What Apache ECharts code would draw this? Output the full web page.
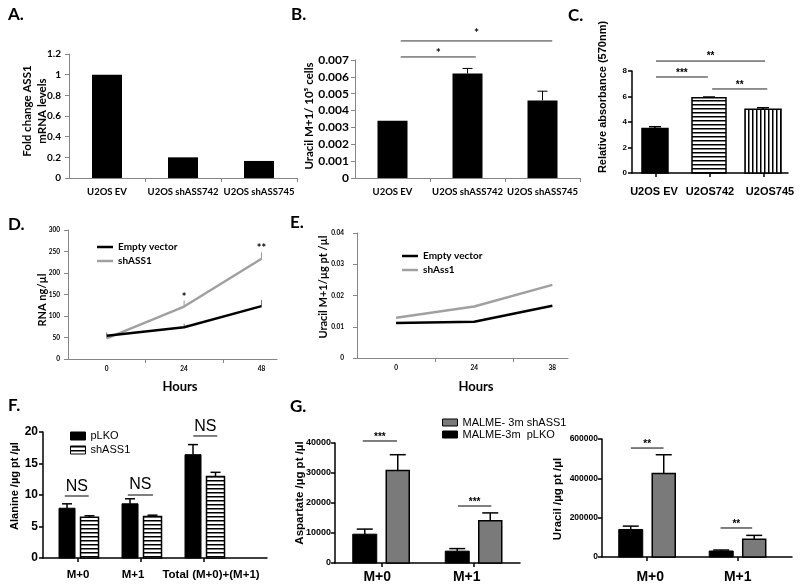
<!DOCTYPE html>
<html><head><meta charset="utf-8">
<script src="https://cdn.jsdelivr.net/npm/echarts@6/dist/echarts.min.js"></script>
<style>html,body{margin:0;padding:0;background:#fff}#c{width:800px;height:586px}</style>
</head><body><div id="c"></div>
<script>
// ---------------- DATA ----------------
const catsA = ['U2OS EV', 'U2OS shASS742', 'U2OS shASS745'];
const valsA = [1.0, 0.2, 0.165];

const catsB = ['U2OS EV', 'U2OS shASS742', 'U2OS shASS745'];
const valsB = [0.0034, 0.0062, 0.0046];
const errB = [0, 0.0003, 0.00055];
const sigB = [
  {x1: 0.11, x2: 1.11, y: 0.00718, ty: 0.00738, text: '*'},
  {x1: 0.11, x2: 2.13, y: 0.00813, ty: 0.00857, text: '*'}
];

const catsC = ['U2OS EV', 'U2OS742', 'U2OS745'];
const valsC = [3.5, 5.9, 5.0];
const errC = [0.13, 0.06, 0.12];
const sigC = [
  {x1: 0.0, x2: 0.96, y: 7.53, ty: 7.8, text: '***'},
  {x1: 0.0, x2: 2.02, y: 8.78, ty: 9.14, text: '**'},
  {x1: 1.04, x2: 2.06, y: 6.59, ty: 6.86, text: '**'}
];

const hoursD = ['0', '24', '48'];
const emptyD = [54, 74, 123];
const shD = [48, 122, 233];
const errEmptyD = [8, 8, 14];
const errShD = [8, 14, 15];
const sigD = [
  {x1: 1, x2: 1, y: 143, ty: 143, text: '*'},
  {x1: 2, x2: 2, y: 257, ty: 257, text: '**'}
];

const hoursE = ['0', '24', '38'];
const emptyE = [0.0112, 0.0116, 0.0167];
const shE = [0.0129, 0.0165, 0.0234];

const catsF = ['M+0', 'M+1', 'Total (M+0)+(M+1)'];
const pLKOF = [7.9, 8.6, 16.4];
const errPF = [0.7, 0.8, 1.6];
const shF = [6.45, 6.6, 12.95];
const errSF = [0.25, 0.2, 0.65];
const sigF = [
  {x1: -0.21, x2: 0.17, y: 9.84, ty: 11.27, text: 'NS'},
  {x1: 0.79, x2: 1.19, y: 10.0, ty: 11.6, text: 'NS'},
  {x1: 1.83, x2: 2.21, y: 19.37, ty: 20.8, text: 'NS'}
];

const catsG = ['M+0', 'M+1'];
const pLKOG1 = [9600, 3950];
const errPG1 = [1700, 850];
const shG1 = [30800, 14100];
const errSG1 = [5300, 2600];
const sigG1 = [
  {x1: -0.2, x2: 0.17, y: 40670, ty: 41830, text: '***'},
  {x1: 0.83, x2: 1.19, y: 19000, ty: 20170, text: '***'}
];
const pLKOG2 = [140000, 30500];
const errPG2 = [17000, 5000];
const shG2 = [424000, 90000];
const errSG2 = [96000, 20000];
const sigG2 = [
  {x1: -0.18, x2: 0.18, y: 554000, ty: 572000, text: '**'},
  {x1: 0.81, x2: 1.16, y: 147500, ty: 165000, text: '**'}
];

// ---------------- STYLE HELPERS ----------------
const XL = 'Lato, "Liberation Sans", sans-serif';
const AR = '"Liberation Sans", Arial, sans-serif';
const XLGRAY = '#868686';

function stripes(dir, period, lw) {
  const c = document.createElement('canvas');
  c.width = period; c.height = period;
  const g = c.getContext('2d');
  g.fillStyle = '#fff'; g.fillRect(0, 0, period, period);
  g.fillStyle = '#000';
  if (dir === 'h') g.fillRect(0, 0, period, lw); else g.fillRect(0, 0, lw, period);
  return {image: c, repeat: 'repeat'};
}
const hStripe = stripes('h', 4, 1.5);
const vStripe = stripes('v', 4, 1.5);

function barSeries(o) {
  const data = o.values.map((v, i) => [i, v, o.errs ? o.errs[i] : 0]);
  return {
    type: 'custom', name: o.name, xAxisIndex: o.ax, yAxisIndex: o.ax, silent: true,
    itemStyle: {color: Array.isArray(o.fill) ? o.fill[0] : o.fill, borderColor: o.stroke || '#000', borderWidth: o.bw || 0},
    data: data,
    renderItem: function (params, api) {
      const i = params.dataIndex;
      const x = api.value(0), v = api.value(1), e = api.value(2);
      const b = api.coord([x, 0]), t = api.coord([x, v]);
      const cx = b[0] + (o.offset || 0);
      const w = Array.isArray(o.width) ? o.width[i] : o.width;
      const fill = Array.isArray(o.fill) ? o.fill[i] : o.fill;
      const ch = [];
      if (e > 0) {
        const et = api.coord([x, v + e]);
        const es = {stroke: '#000', lineWidth: o.ew || 1};
        ch.push({type: 'line', shape: {x1: cx, y1: t[1], x2: cx, y2: et[1]}, style: es});
        ch.push({type: 'line', shape: {x1: cx - o.cap / 2, y1: et[1], x2: cx + o.cap / 2, y2: et[1]}, style: es});
      }
      ch.push({type: 'rect', shape: {x: cx - w / 2, y: t[1], width: w, height: b[1] - t[1]},
        style: {fill: fill, stroke: o.bw ? (o.stroke || '#000') : null, lineWidth: o.bw || 0}});
      return {type: 'group', children: ch};
    }
  };
}

function errSeries(ax, values, errs, color) {
  return {
    type: 'custom', xAxisIndex: ax, yAxisIndex: ax, silent: true, z: 1,
    data: values.map((v, i) => [i, v, errs[i]]),
    renderItem: function (params, api) {
      const x = api.value(0), v = api.value(1), e = api.value(2);
      const p = api.coord([x, v]), q = api.coord([x, v + e]);
      return {type: 'line', shape: {x1: p[0], y1: p[1], x2: q[0], y2: q[1]}, style: {stroke: color, lineWidth: 1}};
    }
  };
}

function sigSeries(ax, items, font, lineColor) {
  return {
    type: 'custom', xAxisIndex: ax, yAxisIndex: ax, silent: true, z: 5,
    data: items.map(s => [s.x1, s.y, s.x2, s.ty]),
    renderItem: function (params, api) {
      const s = items[params.dataIndex];
      const p1 = api.coord([s.x1, s.y]), p2 = api.coord([s.x2, s.y]);
      const pt = api.coord([(s.x1 + s.x2) / 2, s.ty]);
      const ch = [];
      if (s.x2 !== s.x1) ch.push({type: 'line', shape: {x1: p1[0], y1: p1[1], x2: p2[0], y2: p2[1]}, style: {stroke: lineColor, lineWidth: 1}});
      ch.push({type: 'text', x: pt[0], y: pt[1], style: {text: s.text, font: font, fill: '#000', align: 'center', verticalAlign: 'middle'}});
      return {type: 'group', children: ch};
    }
  };
}

function xAx(gi, min, max, names, ticks, o, shifts) {
  const rich = {};
  names.forEach((_, i) => {
    const s = shifts ? shifts[i] : 0;
    rich['s' + i] = Object.assign({padding: s > 0 ? [0, 0, 0, 2 * s] : [0, -2 * s, 0, 0]}, o.font);
  });
  return {
    type: 'value', gridIndex: gi, min: min, max: max,
    axisLine: {show: true, onZero: false, lineStyle: {color: o.color, width: o.width}},
    axisTick: {show: true, customValues: ticks, length: 4, inside: false, lineStyle: {color: o.color, width: o.width}},
    axisLabel: Object.assign({show: true, customValues: names.map((_, i) => i),
      showMinLabel: true, showMaxLabel: true, hideOverlap: false,
      formatter: v => { const i = Math.round(v); return names[i] ? '{s' + i + '|' + names[i] + '}' : ''; },
      rich: rich, margin: o.margin, color: '#000'}, o.font),
    splitLine: {show: false}
  };
}
function yAx(gi, max, interval, o) {
  return {
    type: 'value', gridIndex: gi, min: 0, max: max, interval: interval,
    axisLine: {show: true, onZero: false, lineStyle: {color: o.color, width: o.width}},
    axisTick: {show: true, length: 4, lineStyle: {color: o.color, width: o.width}},
    axisLabel: Object.assign({margin: o.margin, showMinLabel: true, showMaxLabel: true, hideOverlap: false,
      formatter: v => String(+v.toFixed(6)), color: '#000'}, o.font),
    splitLine: {show: false}
  };
}
const xlAxis = (m, size) => ({color: XLGRAY, width: 1, margin: m, font: {fontFamily: XL, fontWeight: 'bold', fontSize: size, color: '#000'}});
const prAxis = (m, size) => ({color: '#000', width: 1.5, margin: m, font: {fontFamily: AR, fontWeight: 'bold', fontSize: size, color: '#000'}});

const grid = [
  {left: 69, top: 54, width: 228, height: 124},
  {left: 355, top: 60, width: 225, height: 118},
  {left: 632, top: 71, width: 156, height: 102},
  {left: 68, top: 230, width: 209, height: 129},
  {left: 357, top: 233, width: 211, height: 125},
  {left: 43, top: 432, width: 224, height: 126},
  {left: 335, top: 443, width: 185, height: 120},
  {left: 602, top: 439, width: 190, height: 118}
].map(g => Object.assign({containLabel: false, outerBoundsMode: 'none'}, g));

const xAxis = [
  xAx(0, -0.5, 2.5, catsA, [0.5, 1.5, 2.5], xlAxis(9, 9.5)),
  xAx(1, -0.5, 2.5, catsB, [0.5, 1.5, 2.5], xlAxis(9, 9.5)),
  xAx(2, -0.444, 2.444, catsC, [0, 1, 2], prAxis(13, 11), [-2, 0, 6]),
  xAx(3, -0.5, 2.2, hoursD, [0.5, 1.5], xlAxis(6, 6.5)),
  xAx(4, -0.5, 2.2, hoursE, [0.5, 1.5], xlAxis(6, 6.5)),
  xAx(5, -0.556, 3.0, catsF, [0, 1, 2], prAxis(11, 11.5), [0, -8, 7]),
  xAx(6, -0.5, 1.5, catsG, [0, 1], prAxis(7, 14), [-4, -7]),
  xAx(7, -0.5, 1.6, catsG, [0, 1], prAxis(13, 14), [3, 0])
];
const yAxis = [
  yAx(0, 1.2, 0.2, xlAxis(8, 10)),
  yAx(1, 0.007, 0.001, xlAxis(6, 12)),
  yAx(2, 8, 2, prAxis(5, 8)),
  yAx(3, 300, 50, xlAxis(8, 6.5)),
  yAx(4, 0.04, 0.01, xlAxis(13, 6.5)),
  yAx(5, 20, 5, prAxis(5, 12)),
  yAx(6, 40000, 10000, prAxis(4, 9)),
  yAx(7, 600000, 200000, prAxis(4, 8.5))
];

const series = [
  // A
  barSeries({name: 'A', ax: 0, values: valsA, width: 30, fill: '#000'}),
  // B
  barSeries({name: 'B', ax: 1, values: valsB, errs: errB, width: 30, fill: '#000', cap: 10}),
  sigSeries(1, sigB, 'bold 12px ' + XL, '#333'),
  // C
  barSeries({name: 'C', ax: 2, values: valsC, errs: errC, width: [26, 34, 36], offset: -1, fill: ['#000', hStripe, vStripe], stroke: '#000', bw: 1.5, cap: 12, ew: 1.5}),
  sigSeries(2, sigC, 'bold 10px ' + AR, '#222'),
  // D
  errSeries(3, emptyD, errEmptyD, '#777'),
  errSeries(3, shD, errShD, '#999'),
  {type: 'line', name: 'Empty vector', xAxisIndex: 3, yAxisIndex: 3, data: emptyD.map((v, i) => [i, v]), symbol: 'none', z: 3,
    lineStyle: {color: '#000', width: 2.5}, itemStyle: {color: '#000'}},
  {type: 'line', name: 'shASS1', xAxisIndex: 3, yAxisIndex: 3, data: shD.map((v, i) => [i, v]), symbol: 'none', z: 2,
    lineStyle: {color: '#a0a0a0', width: 2.5}, itemStyle: {color: '#a0a0a0'}},
  sigSeries(3, sigD, 'bold 11px ' + XL, '#000'),
  // E
  {type: 'line', name: 'Empty vector', xAxisIndex: 4, yAxisIndex: 4, data: emptyE.map((v, i) => [i, v]), symbol: 'none', z: 3,
    lineStyle: {color: '#000', width: 2.5}, itemStyle: {color: '#000'}},
  {type: 'line', name: 'shAss1', xAxisIndex: 4, yAxisIndex: 4, data: shE.map((v, i) => [i, v]), symbol: 'none', z: 2,
    lineStyle: {color: '#a0a0a0', width: 2.5}, itemStyle: {color: '#a0a0a0'}},
  // F
  barSeries({name: 'pLKO', ax: 5, values: pLKOF, errs: errPF, width: 16, offset: -11, fill: '#000', stroke: '#000', bw: 1, cap: 10, ew: 1.5}),
  barSeries({name: 'shASS1 ', ax: 5, values: shF, errs: errSF, width: 18, offset: 11.5, fill: hStripe, stroke: '#000', bw: 1.5, cap: 10, ew: 1.5}),
  sigSeries(5, sigF, '16px ' + AR, '#000'),
  // G left
  barSeries({name: 'MALME-3m  pLKO', ax: 6, values: pLKOG1, errs: errPG1, width: 24, offset: -16.5, fill: '#000', stroke: '#000', bw: 1, cap: 16, ew: 1.5}),
  barSeries({name: 'MALME- 3m shASS1', ax: 6, values: shG1, errs: errSG1, width: 23, offset: 16.5, fill: '#7a7a7a', stroke: '#000', bw: 1.5, cap: 16, ew: 1.5}),
  sigSeries(6, sigG1, 'bold 10px ' + AR, '#000'),
  // G right
  barSeries({name: 'G2p', ax: 7, values: pLKOG2, errs: errPG2, width: 24, offset: -16.5, fill: '#000', stroke: '#000', bw: 1, cap: 16, ew: 1.5}),
  barSeries({name: 'G2s', ax: 7, values: shG2, errs: errSG2, width: 23, offset: 16.5, fill: '#7a7a7a', stroke: '#000', bw: 1.5, cap: 16, ew: 1.5}),
  sigSeries(7, sigG2, 'bold 10px ' + AR, '#000')
];

const legend = [
  {left: 92, top: 236, orient: 'vertical', icon: 'rect', itemWidth: 16, itemHeight: 2.5, itemGap: 2, selectedMode: false,
    data: ['Empty vector', 'shASS1'], textStyle: {fontFamily: XL, fontWeight: 'bold', fontSize: 10, lineHeight: 12, color: '#000'}},
  {left: 397, top: 245, orient: 'vertical', icon: 'rect', itemWidth: 16, itemHeight: 2.5, itemGap: 2, selectedMode: false,
    data: ['Empty vector', 'shAss1'], textStyle: {fontFamily: XL, fontWeight: 'bold', fontSize: 10, lineHeight: 12, color: '#000'}},
  {left: 65, top: 425, orient: 'vertical', icon: 'rect', itemWidth: 15, itemHeight: 8, itemGap: 2, selectedMode: false,
    data: [{name: 'pLKO', itemStyle: {color: '#000', borderColor: '#000', borderWidth: 1}},
           {name: 'shASS1 ', itemStyle: {color: hStripe, borderColor: '#000', borderWidth: 1}}],
    textStyle: {fontFamily: AR, fontSize: 11, lineHeight: 12, color: '#000'}},
  {left: 437, top: 412, orient: 'vertical', icon: 'rect', itemWidth: 15, itemHeight: 7, itemGap: 1, selectedMode: false,
    data: [{name: 'MALME- 3m shASS1', itemStyle: {color: '#7a7a7a', borderColor: '#000', borderWidth: 1}},
           {name: 'MALME-3m  pLKO', itemStyle: {color: '#000', borderColor: '#000', borderWidth: 1}}],
    textStyle: {fontFamily: AR, fontSize: 11, lineHeight: 11, color: '#000'}}
];

function label(text, x, y) {
  return {type: 'text', x: x, y: y, style: {text: text, font: 'bold 17px ' + XL, fill: '#000', align: 'left', verticalAlign: 'middle'}};
}
function vtitle(text, x, y, font, lh) {
  return {type: 'text', x: x, y: y, rotation: Math.PI / 2,
    style: {text: text, font: font, fill: '#000', align: 'center', verticalAlign: 'middle', lineHeight: lh || 14}};
}
function htitle(text, x, y, font) {
  return {type: 'text', x: x, y: y, style: {text: text, font: font, fill: '#000', align: 'center', verticalAlign: 'middle'}};
}

const graphic = [
  label('A.', 8, 15), label('B.', 291, 15), label('C.', 568, 16),
  label('D.', 8, 225), label('E.', 290, 223), label('F.', 8, 406), label('G.', 290, 407),
  vtitle('Fold change ASS1\nmRNA levels', 35, 111, 'bold 11.5px ' + XL, 15),
  vtitle('Uracil M+1/ 10\u2075 cells', 309, 116, 'bold 11.5px ' + XL),
  vtitle('Relative absorbance (570nm)', 603, 97, 'bold 11px ' + AR),
  vtitle('RNA ng/\u00b5l', 42, 300, 'bold 11px ' + XL),
  htitle('Hours', 180, 387, 'bold 13px ' + XL),
  vtitle('Uracil M+1/\u00b5g pt /\u00b5l', 323, 287, 'bold 11px ' + XL),
  htitle('Hours', 476, 387, 'bold 13px ' + XL),
  vtitle('Alanine /\u00b5g pt /\u00b5l', 15, 486, 'bold 11px ' + AR),
  vtitle('Aspartate /\u00b5g pt /\u00b5l', 300, 493, 'bold 11.5px ' + AR),
  vtitle('Uracil /\u00b5g pt /\u00b5l', 558, 499, 'bold 11.5px ' + AR)
];

const chart = echarts.init(document.getElementById('c'), null, {renderer: 'canvas'});
chart.setOption({
  animation: false,
  backgroundColor: '#fff',
  grid: grid, xAxis: xAxis, yAxis: yAxis, series: series, legend: legend, graphic: graphic
});
</script>
</body></html>
